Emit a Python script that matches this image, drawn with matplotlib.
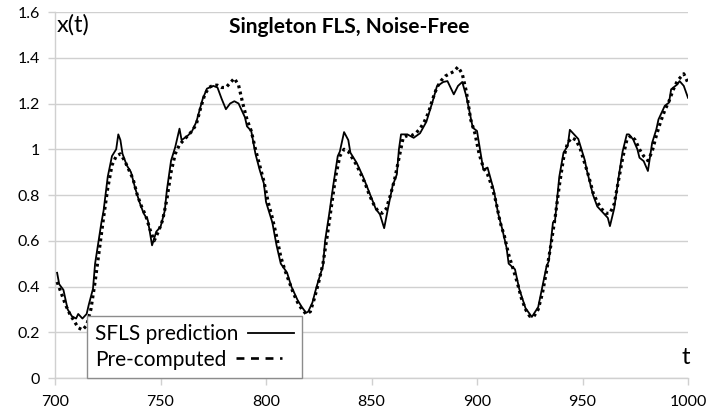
import matplotlib
matplotlib.use("Agg")
import matplotlib.pyplot as plt
from matplotlib.lines import Line2D

# ---- data ----
t_sfls = [701, 702, 704, 706, 708, 710, 711, 713, 715, 716, 718, 719, 720, 722, 723, 725, 727, 729,
          730, 731, 732, 734, 736, 738, 740, 742, 744, 746, 748, 750, 752, 753, 755, 757, 759, 760,
          763, 765, 767, 770, 772, 775, 777, 779, 781, 783, 785, 787, 790, 791, 793, 795, 797, 799,
          800, 803, 805, 807, 810, 812, 815, 817, 819, 820, 822, 824, 827, 828, 830, 832, 834, 835,
          837, 839, 840, 843, 846, 849, 852, 854, 856, 858, 860, 862, 863, 864, 867, 870, 873, 876,
          879, 881, 884, 886, 889, 891, 893, 895, 898, 900, 903, 905, 908, 910, 912, 914, 915, 918,
          920, 923, 926, 929, 931, 933, 934, 936, 937, 939, 941, 943, 944, 946, 948, 951, 952, 955,
          957, 960, 962, 963, 965, 967, 969, 971, 972, 974, 976, 977, 979, 981, 983, 985, 986, 989,
          991, 992, 995, 996, 998, 1000]
sfls = [0.46, 0.41, 0.385, 0.30, 0.27, 0.26, 0.28, 0.26, 0.28, 0.32, 0.39, 0.50, 0.56, 0.68, 0.73,
        0.88, 0.97, 1.00, 1.065, 1.04, 0.98, 0.93, 0.90, 0.83, 0.77, 0.72, 0.69, 0.58, 0.64, 0.66,
        0.73, 0.82, 0.95, 1.01, 1.09, 1.04, 1.06, 1.08, 1.12, 1.22, 1.265, 1.277, 1.27, 1.22, 1.175,
        1.20, 1.21, 1.20, 1.14, 1.10, 1.08, 0.98, 0.91, 0.85, 0.77, 0.68, 0.58, 0.50, 0.46, 0.40,
        0.34, 0.31, 0.285, 0.29, 0.33, 0.40, 0.49, 0.60, 0.72, 0.85, 0.97, 0.99, 1.075, 1.04, 0.985,
        0.94, 0.88, 0.81, 0.74, 0.715, 0.655, 0.75, 0.84, 0.89, 1.00, 1.065, 1.065, 1.05, 1.07, 1.12,
        1.21, 1.275, 1.294, 1.298, 1.24, 1.277, 1.294, 1.23, 1.094, 1.08, 0.91, 0.92, 0.82, 0.72,
        0.65, 0.57, 0.50, 0.475, 0.39, 0.305, 0.267, 0.31, 0.40, 0.49, 0.51, 0.68, 0.69, 0.88, 0.985,
        1.015, 1.085, 1.065, 1.045, 0.955, 0.91, 0.80, 0.75, 0.72, 0.70, 0.664, 0.74, 0.87, 0.99,
        1.065, 1.065, 1.043, 1.00, 0.963, 0.948, 0.905, 1.028, 1.087, 1.13, 1.19, 1.204, 1.262,
        1.284, 1.298, 1.277, 1.225]

t_pre = [701, 703, 705, 707, 709, 711, 713, 715, 717, 719, 721, 723, 725, 727, 729, 731, 733, 735,
         737, 739, 741, 743, 745, 747, 749, 751, 753, 755, 757, 759, 761, 763, 765, 767, 769, 771,
         773, 775, 777, 779, 781, 783, 785, 787, 789, 791, 793, 795, 797, 799, 801, 803, 805, 807,
         809, 811, 813, 815, 817, 819, 821, 823, 825, 827, 829, 831, 833, 835, 837, 839, 841, 843,
         845, 847, 849, 851, 853, 855, 857, 859, 861, 863, 865, 867, 869, 871, 873, 875, 877, 879,
         881, 883, 885, 887, 889, 891, 893, 895, 897, 899, 901, 903, 905, 907, 909, 911, 913, 915,
         917, 919, 921, 923, 925, 927, 929, 931, 933, 935, 937, 939, 941, 943, 945, 947, 949, 951,
         953, 955, 957, 959, 961, 963, 965, 967, 969, 971, 973, 975, 977, 979, 981, 983, 985, 987,
         989, 991, 993, 995, 997, 998, 1000]
pre = [0.42, 0.37, 0.32, 0.28, 0.25, 0.22, 0.21, 0.23, 0.30, 0.42, 0.56, 0.70, 0.83, 0.93, 0.97,
       0.98, 0.95, 0.91, 0.87, 0.80, 0.75, 0.71, 0.65, 0.60, 0.64, 0.69, 0.78, 0.90, 0.98, 1.02,
       1.04, 1.06, 1.08, 1.11, 1.18, 1.24, 1.27, 1.28, 1.28, 1.27, 1.27, 1.29, 1.31, 1.28, 1.20,
       1.13, 1.08, 1.00, 0.93, 0.86, 0.77, 0.70, 0.62, 0.53, 0.47, 0.42, 0.37, 0.33, 0.30, 0.28,
       0.29, 0.35, 0.42, 0.50, 0.62, 0.75, 0.88, 0.97, 1.00, 0.99, 0.96, 0.93, 0.89, 0.85, 0.80,
       0.76, 0.73, 0.72, 0.74, 0.80, 0.87, 0.96, 1.05, 1.06, 1.06, 1.07, 1.09, 1.12, 1.16, 1.22,
       1.27, 1.30, 1.32, 1.33, 1.34, 1.36, 1.33, 1.25, 1.13, 1.07, 0.98, 0.92, 0.89, 0.84, 0.77,
       0.68, 0.62, 0.54, 0.48, 0.42, 0.35, 0.30, 0.27, 0.27, 0.30, 0.37, 0.47, 0.58, 0.70, 0.84,
       0.96, 1.03, 1.05, 1.04, 1.00, 0.94, 0.88, 0.81, 0.77, 0.74, 0.72, 0.72, 0.76, 0.86, 0.96,
       1.04, 1.06, 1.04, 1.00, 0.97, 0.95, 0.99, 1.06, 1.12, 1.17, 1.21, 1.26, 1.30, 1.32, 1.33,
       1.29]

x_ticks = [700, 750, 800, 850, 900, 950, 1000]
y_ticks = [0, 0.2, 0.4, 0.6, 0.8, 1.0, 1.2, 1.4, 1.6]
y_ticklabels = ["0", "0.2", "0.4", "0.6", "0.8", "1", "1.2", "1.4", "1.6"]
title = "Singleton FLS, Noise-Free"
series_names = ["SFLS prediction", "Pre-computed"]

# ---- figure ----
plt.rcParams['font.family'] = ['Lato', 'DejaVu Sans']
W, H = 707, 415
X0, X1, Y0, Y1 = 55, 688, 378, 12
fig = plt.figure(figsize=(W / 100, H / 100), dpi=100)
ax = fig.add_axes([X0 / W, 1 - Y0 / H, (X1 - X0) / W, (Y0 - Y1) / H])

grid_c = "#d0d0d0"
ax.plot(t_pre, pre, color="black", lw=2.3, linestyle=(0, (0.9, 1.1)), zorder=3)
ax.plot(t_sfls, sfls, color="black", lw=1.3, zorder=4)

ax.set_xlim(700, 1000)
ax.set_ylim(0, 1.6)
ax.set_xticks(x_ticks)
ax.set_yticks(y_ticks)
ax.set_yticklabels(y_ticklabels)
ax.yaxis.grid(True, color=grid_c, lw=1.0)
ax.set_axisbelow(True)
for s in ["top", "right"]:
    ax.spines[s].set_visible(False)
for s in ["left", "bottom"]:
    ax.spines[s].set_color(grid_c)
    ax.spines[s].set_linewidth(1.0)
ax.tick_params(axis="both", colors=grid_c, length=5, width=1.0, labelsize=11.5,
               labelcolor="black")
ax.tick_params(axis="x", pad=7)
ax.tick_params(axis="y", pad=6)

fig.text(349 / W, 1 - 27 / H, title, ha="center", va="center",
         fontsize=15, fontweight="bold")
ax.text(701, 1.545, "x(t)", fontsize=17, ha="left", va="center")
ax.text(999, 0.09, "t", fontsize=17, ha="center", va="center")

handles = [Line2D([], [], color="black", lw=1.3),
           Line2D([], [], color="black", lw=1.9, linestyle=(0, (3, 2.5)))]
leg = ax.legend(handles, series_names, loc="lower left",
                bbox_to_anchor=((87 - X0) / (X1 - X0), 0.0),
                markerfirst=False, fontsize=15, frameon=True, fancybox=False,
                edgecolor="#8c8c8c", framealpha=1.0, handlelength=2.2,
                handletextpad=0.45, borderpad=0.4, labelspacing=0.25,
                borderaxespad=0.0)
for col in leg._legend_handle_box.get_children():
    col.align = "left"
leg.get_frame().set_linewidth(1.0)
leg.set_zorder(5)

fig.savefig("out.png", dpi=100)
